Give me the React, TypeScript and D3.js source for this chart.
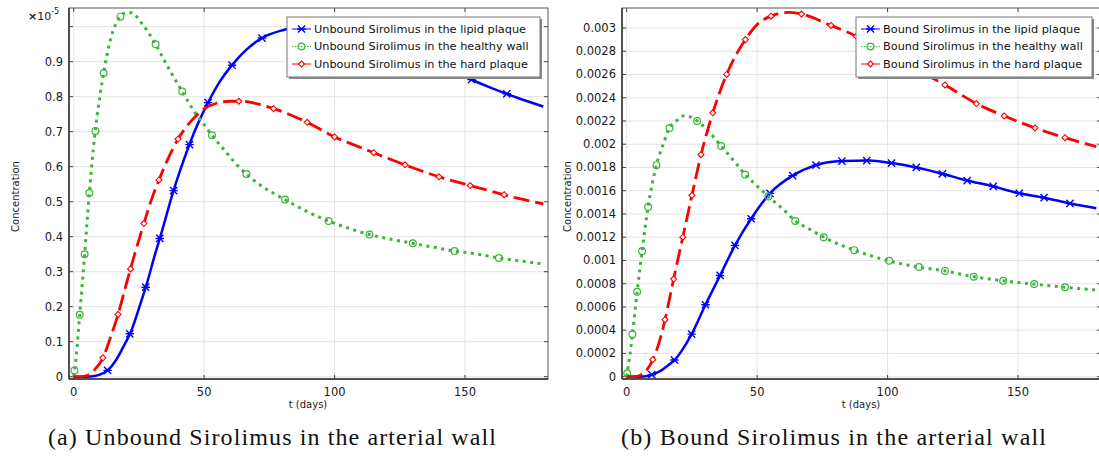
import React from "react";
import * as d3 from "d3";

// ---------- DATA ----------
const xTicks = [0, 50, 100, 150];
const unboundYTicks = [0, 0.1, 0.2, 0.3, 0.4, 0.5, 0.6, 0.7, 0.8, 0.9];
const unboundYGrid = [0, 0.1, 0.2, 0.3, 0.4, 0.5, 0.6, 0.7, 0.8, 0.9, 1.0];
const boundYTicks = [0, 0.0002, 0.0004, 0.0006, 0.0008, 0.001, 0.0012, 0.0014, 0.0016, 0.0018, 0.002, 0.0022, 0.0024, 0.0026, 0.0028, 0.003];

// Unbound (x1e-5)
const tUnboundLipid = [0, 5, 8, 10, 13, 16, 19, 22, 25, 28, 31, 34, 38, 42, 46, 51.5, 56, 61, 66, 72, 80, 90, 100, 110, 120, 130, 140, 150, 160, 170, 180];
const unboundLipid = [0, 0, 0.002, 0.006, 0.018, 0.045, 0.085, 0.13, 0.195, 0.265, 0.345, 0.42, 0.525, 0.615, 0.695, 0.783, 0.843, 0.893, 0.933, 0.967, 0.99, 1.003, 1.003, 0.99, 0.962, 0.928, 0.893, 0.857, 0.825, 0.797, 0.772];
const mUnboundLipid = [13, 21.5, 27.6, 33, 38.3, 44.4, 51.5, 60.7, 72.2, 86, 102, 119, 136, 152.5, 166];

const tUnboundHealthy = [0, 1, 2, 3, 4, 5, 6, 7, 8, 10, 12, 14, 16, 18, 20, 22, 24, 26, 28, 31, 35, 38, 42, 46, 50, 53, 58, 62, 66, 72, 80, 90, 98, 105, 113, 120, 130, 140, 146, 155, 163, 172, 180];
const unboundHealthy = [0, 0.06, 0.15, 0.24, 0.33, 0.43, 0.525, 0.61, 0.685, 0.8, 0.89, 0.96, 1.005, 1.03, 1.04, 1.04, 1.03, 1.01, 0.99, 0.955, 0.9, 0.86, 0.81, 0.76, 0.72, 0.69, 0.645, 0.61, 0.58, 0.545, 0.51, 0.47, 0.444, 0.425, 0.407, 0.395, 0.381, 0.367, 0.359, 0.35, 0.339, 0.33, 0.322];
const mUnboundHealthy = [0.3, 2.3, 4.2, 6, 8.3, 11.5, 17.9, 31.4, 41.6, 53, 66.2, 81, 97.7, 113.4, 130, 146, 163];

const tUnboundHard = [0, 3, 5, 8, 11, 14, 17, 20, 23, 27, 30, 33, 36, 40, 45, 50, 55, 60, 65, 70, 77, 85, 90, 100, 110, 120, 130, 140, 150, 160, 170, 180];
const unboundHard = [0, 0, 0.003, 0.02, 0.05, 0.11, 0.178, 0.26, 0.34, 0.44, 0.51, 0.568, 0.62, 0.679, 0.73, 0.765, 0.782, 0.787, 0.787, 0.78, 0.765, 0.742, 0.725, 0.685, 0.655, 0.625, 0.597, 0.571, 0.55, 0.53, 0.51, 0.494];
const mUnboundHard = [11.2, 17, 21.8, 26.9, 32.7, 40, 63.3, 76.6, 89.5, 100, 115, 127, 140, 152, 165];

// Bound
const tBoundLipid = [0, 5, 8, 10, 13, 16, 18, 21, 25, 30, 36, 41.5, 48, 55, 63.6, 72.6, 82.5, 93, 101, 111, 122, 130, 140, 150, 160, 170, 180];
const boundLipid = [0, 0, 0.000005, 0.00002, 0.00005, 0.0001, 0.000135, 0.00022, 0.00037, 0.00061, 0.00088, 0.00113, 0.00137, 0.00158, 0.00173, 0.00182, 0.001855, 0.00186, 0.00184, 0.0018, 0.00174, 0.00169, 0.00164, 0.00158, 0.00154, 0.00149, 0.00145];
const mBoundLipid = [9.6, 18.3, 24.9, 30.2, 35.8, 41.5, 47.7, 54.9, 63.6, 72.6, 82.5, 92, 101.5, 111, 121, 130.5, 140.5, 150.5, 160, 169.9];

const tBoundHealthy = [0, 1, 2.2, 4, 6, 8.2, 11.4, 14, 16.4, 19, 22, 25, 27, 31, 36, 41, 45.4, 50, 54.3, 60, 64.6, 70, 75.5, 87, 100, 110, 122, 133, 144, 156, 168, 180];
const boundHealthy = [0, 0.00015, 0.000365, 0.00073, 0.0011, 0.00146, 0.00182, 0.002, 0.00214, 0.0022, 0.002245, 0.00223, 0.0022, 0.00212, 0.00199, 0.00186, 0.00174, 0.00164, 0.00155, 0.00144, 0.00134, 0.00127, 0.0012, 0.00109, 0.001, 0.00095, 0.00091, 0.00086, 0.000826, 0.000797, 0.000769, 0.000746];
const mBoundHealthy = [0.2, 2.2, 4, 5.9, 8.2, 11.4, 16.4, 27, 36.2, 45.4, 54.3, 64.6, 75.5, 87.2, 100.6, 112, 122, 133, 144.3, 156.2, 168];

const tBoundHard = [0, 3, 5, 7, 10, 12.5, 14.7, 16.5, 18, 21.5, 25, 28.5, 33, 38.3, 45.5, 50, 55, 62, 67, 78, 87, 95, 105, 113, 122, 134, 145, 156.5, 168, 180];
const boundHard = [0, 0, 0.00001, 0.00004, 0.000146, 0.0003, 0.00049, 0.00068, 0.00084, 0.0012, 0.00156, 0.00191, 0.00227, 0.0026, 0.0029, 0.00303, 0.0031, 0.003135, 0.00312, 0.003025, 0.00294, 0.00285, 0.00272, 0.00262, 0.00251, 0.00235, 0.00224, 0.00214, 0.002056, 0.00198];
const mBoundHard = [10, 14.7, 18, 21.5, 25, 28.5, 33, 38.3, 45.5, 55.3, 67, 78.3, 88, 100, 111, 122, 134, 144.7, 156.5, 168];

const unboundLabels = [
  "Unbound Sirolimus in the lipid plaque",
  "Unbound Sirolimus in the healthy wall",
  "Unbound Sirolimus in the hard plaque",
];
const boundLabels = [
  "Bound Sirolimus in the lipid plaque",
  "Bound Sirolimus in the healthy wall",
  "Bound Sirolimus in the hard plaque",
];
const captions = ["(a) Unbound Sirolimus in the arterial wall", "(b) Bound Sirolimus in the arterial wall"];

// ---------- STYLES ----------
const BLUE = "#0000ff";
const RED = "#ff0000";
const GREEN = "#3ab53a";
const styles = [
  { color: BLUE, width: 2.5, dash: "none", marker: "star" },
  { color: GREEN, width: 3, dash: "3,4.5", marker: "circle" },
  { color: RED, width: 2.8, dash: "16,6", marker: "diamond" },
];
const FONT = "DejaVu Sans, sans-serif";

function interp(ts: number[], vs: number[], t: number) {
  const i = Math.min(Math.max(d3.bisectLeft(ts, t), 1), ts.length - 1);
  const f = (t - ts[i - 1]) / (ts[i] - ts[i - 1]);
  return vs[i - 1] + f * (vs[i] - vs[i - 1]);
}

function Marker({ kind, x, y, color }: { kind: string; x: number; y: number; color: string }) {
  if (kind === "star") {
    const s = 3.6;
    const d = `M${x - s},${y - s}L${x + s},${y + s}M${x - s},${y + s}L${x + s},${y - s}M${x - s - 0.6},${y}L${x + s + 0.6},${y}`;
    return <path d={d} stroke={color} strokeWidth={1.4} fill="none" />;
  }
  if (kind === "circle") {
    return <circle cx={x} cy={y} r={3.4} stroke={color} strokeWidth={1.2} fill="none" />;
  }
  const s = 3;
  return (
    <path
      d={`M${x},${y - s}L${x + s},${y}L${x},${y + s}L${x - s},${y}Z`}
      stroke={color}
      strokeWidth={1.1}
      fill="#fff"
    />
  );
}

type Series = { t: number[]; v: number[]; m: number[] };

function Panel(props: {
  id: string;
  left: number;
  right: number;
  yDomain: [number, number];
  yTicks: number[];
  yGrid: number[];
  series: Series[];
  labels: string[];
  legend: { x: number; w: number };
  exponent?: boolean;
  fmt: (v: number) => string;
  yLabelX: number;
  xLabelX: number;
}) {
  const top = 8;
  const bottom = 379;
  const x = d3.scaleLinear().domain([-1.8, 181.8]).range([props.left, props.right]);
  const y = d3.scaleLinear().domain(props.yDomain).range([bottom, top]);
  const line = d3
    .line<[number, number]>()
    .x((d) => x(d[0]))
    .y((d) => y(d[1]))
    .curve(d3.curveMonotoneX);
  const L = props.left;
  const R = props.right;
  const lg = props.legend;
  return (
    <g>
      <defs>
        <clipPath id={props.id}>
          <rect x={L} y={top} width={R - L} height={bottom - top} />
        </clipPath>
      </defs>
      {props.yGrid.map((v) => (
        <line key={"gy" + v} x1={L} x2={R} y1={y(v)} y2={y(v)} stroke="#e3e3e3" strokeWidth={1} />
      ))}
      {xTicks.map((v) => (
        <line key={"gx" + v} x1={x(v)} x2={x(v)} y1={top} y2={bottom} stroke="#e3e3e3" strokeWidth={1} />
      ))}
      {props.yGrid.map((v) => (
        <g key={"ty" + v}>
          <line x1={L} x2={L + 4} y1={y(v)} y2={y(v)} stroke="#444" />
          <line x1={R - 4} x2={R} y1={y(v)} y2={y(v)} stroke="#444" />
        </g>
      ))}
      {xTicks.map((v) => (
        <g key={"tx" + v}>
          <line x1={x(v)} x2={x(v)} y1={bottom - 4} y2={bottom} stroke="#444" />
          <line x1={x(v)} x2={x(v)} y1={top} y2={top + 4} stroke="#444" />
        </g>
      ))}
      <g clipPath={`url(#${props.id})`}>
        {props.series.map((s, i) => {
          const st = styles[i];
          const pts = s.t.map((t, k) => [t, s.v[k]] as [number, number]);
          return (
            <g key={"s" + i}>
              <path
                d={line(pts) || ""}
                fill="none"
                stroke={st.color}
                strokeWidth={st.width}
                strokeDasharray={st.dash}
              />
              {s.m.map((t) => (
                <Marker key={t} kind={st.marker} x={x(t)} y={y(interp(s.t, s.v, t))} color={st.color} />
              ))}
            </g>
          );
        })}
      </g>
      <rect x={L} y={top} width={R - L} height={bottom - top} fill="none" stroke="#555" strokeWidth={1} />
      <line x1={L} x2={L} y1={top} y2={bottom} stroke="#333" strokeWidth={1.5} />
      <line x1={L} x2={R} y1={bottom} y2={bottom} stroke="#333" strokeWidth={1.5} />
      {props.yTicks.map((v) => (
        <text
          key={"ly" + v}
          x={L - 6}
          y={y(v)}
          textAnchor="end"
          dominantBaseline="central"
          fontFamily={FONT}
          fontSize={11.5}
          fill="#1a1a1a"
        >
          {props.fmt(v)}
        </text>
      ))}
      {xTicks.map((v) => (
        <text key={"lx" + v} x={x(v)} y={396} textAnchor="middle" fontFamily={FONT} fontSize={11.5} fill="#1a1a1a">
          {v}
        </text>
      ))}
      {props.exponent && (
        <text x={L - 41} y={20} fontFamily={FONT} fontSize={11} fill="#1a1a1a">
          <tspan fontWeight="bold">×</tspan>
          <tspan>10</tspan>
          <tspan fontSize={8} dy={-6}>-5</tspan>
        </text>
      )}
      <text
        transform={`translate(${props.yLabelX},${(top + bottom) / 2 + 3}) rotate(-90)`}
        textAnchor="middle"
        dominantBaseline="central"
        fontFamily={FONT}
        fontSize={10}
        fill="#1a1a1a"
      >
        Concentration
      </text>
      <text x={props.xLabelX} y={408} textAnchor="middle" fontFamily={FONT} fontSize={10} fill="#1a1a1a">
        t (days)
      </text>
      <g>
        <rect x={lg.x + 2} y={19} width={lg.w} height={60} fill="#8a8a8a" />
        <rect x={lg.x} y={17} width={lg.w} height={60} fill="#fff" stroke="#777" strokeWidth={1} />
        {props.labels.map((lab, i) => {
          const st = styles[i];
          const cy = 29 + i * 17.5;
          return (
            <g key={lab}>
              <line
                x1={lg.x + 5}
                x2={lg.x + 24}
                y1={cy}
                y2={cy}
                stroke={st.color}
                strokeWidth={1}
                strokeDasharray={i === 1 ? "1.5,1.5" : "none"}
              />
              <Marker kind={st.marker} x={lg.x + 14.5} y={cy} color={st.color} />
              <text
                x={lg.x + 27}
                y={cy}
                dominantBaseline="central"
                fontFamily={FONT}
                fontSize={11.3}
                fill="#111"
              >
                {lab}
              </text>
            </g>
          );
        })}
      </g>
    </g>
  );
}

export default function App() {
  const fmtA = (v: number) => String(+v.toFixed(1));
  const fmtB = (v: number) => String(+v.toFixed(4));
  return (
    <svg
      width={1099}
      height={457}
      style={{ position: "fixed", left: 0, top: 0, background: "#fff" }}
      xmlns="http://www.w3.org/2000/svg"
    >
      <rect x={0} y={0} width={1099} height={457} fill="#fff" />
      <Panel
        id="clipA"
        left={69}
        right={548}
        yDomain={[-0.0066, 1.0534]}
        yTicks={unboundYTicks}
        yGrid={unboundYGrid}
        series={[
          { t: tUnboundLipid, v: unboundLipid, m: mUnboundLipid },
          { t: tUnboundHealthy, v: unboundHealthy, m: mUnboundHealthy },
          { t: tUnboundHard, v: unboundHard, m: mUnboundHard },
        ]}
        labels={unboundLabels}
        legend={{ x: 287, w: 253 }}
        exponent
        fmt={fmtA}
        yLabelX={15}
        xLabelX={308}
      />
      <Panel
        id="clipB"
        left={622}
        right={1101}
        yDomain={[-0.00002, 0.003172]}
        yTicks={boundYTicks}
        yGrid={boundYTicks}
        series={[
          { t: tBoundLipid, v: boundLipid, m: mBoundLipid },
          { t: tBoundHealthy, v: boundHealthy, m: mBoundHealthy },
          { t: tBoundHard, v: boundHard, m: mBoundHard },
        ]}
        labels={boundLabels}
        legend={{ x: 856, w: 236 }}
        fmt={fmtB}
        yLabelX={567}
        xLabelX={861}
      />
      <text
        x={48}
        y={445}
        fontFamily="Liberation Serif, serif"
        fontSize={24}
        fill="#111"
        textLength={448}
        lengthAdjust="spacing"
      >
        {captions[0]}
      </text>
      <text
        x={621}
        y={445}
        fontFamily="Liberation Serif, serif"
        fontSize={24}
        fill="#111"
        textLength={425}
        lengthAdjust="spacing"
      >
        {captions[1]}
      </text>
    </svg>
  );
}
